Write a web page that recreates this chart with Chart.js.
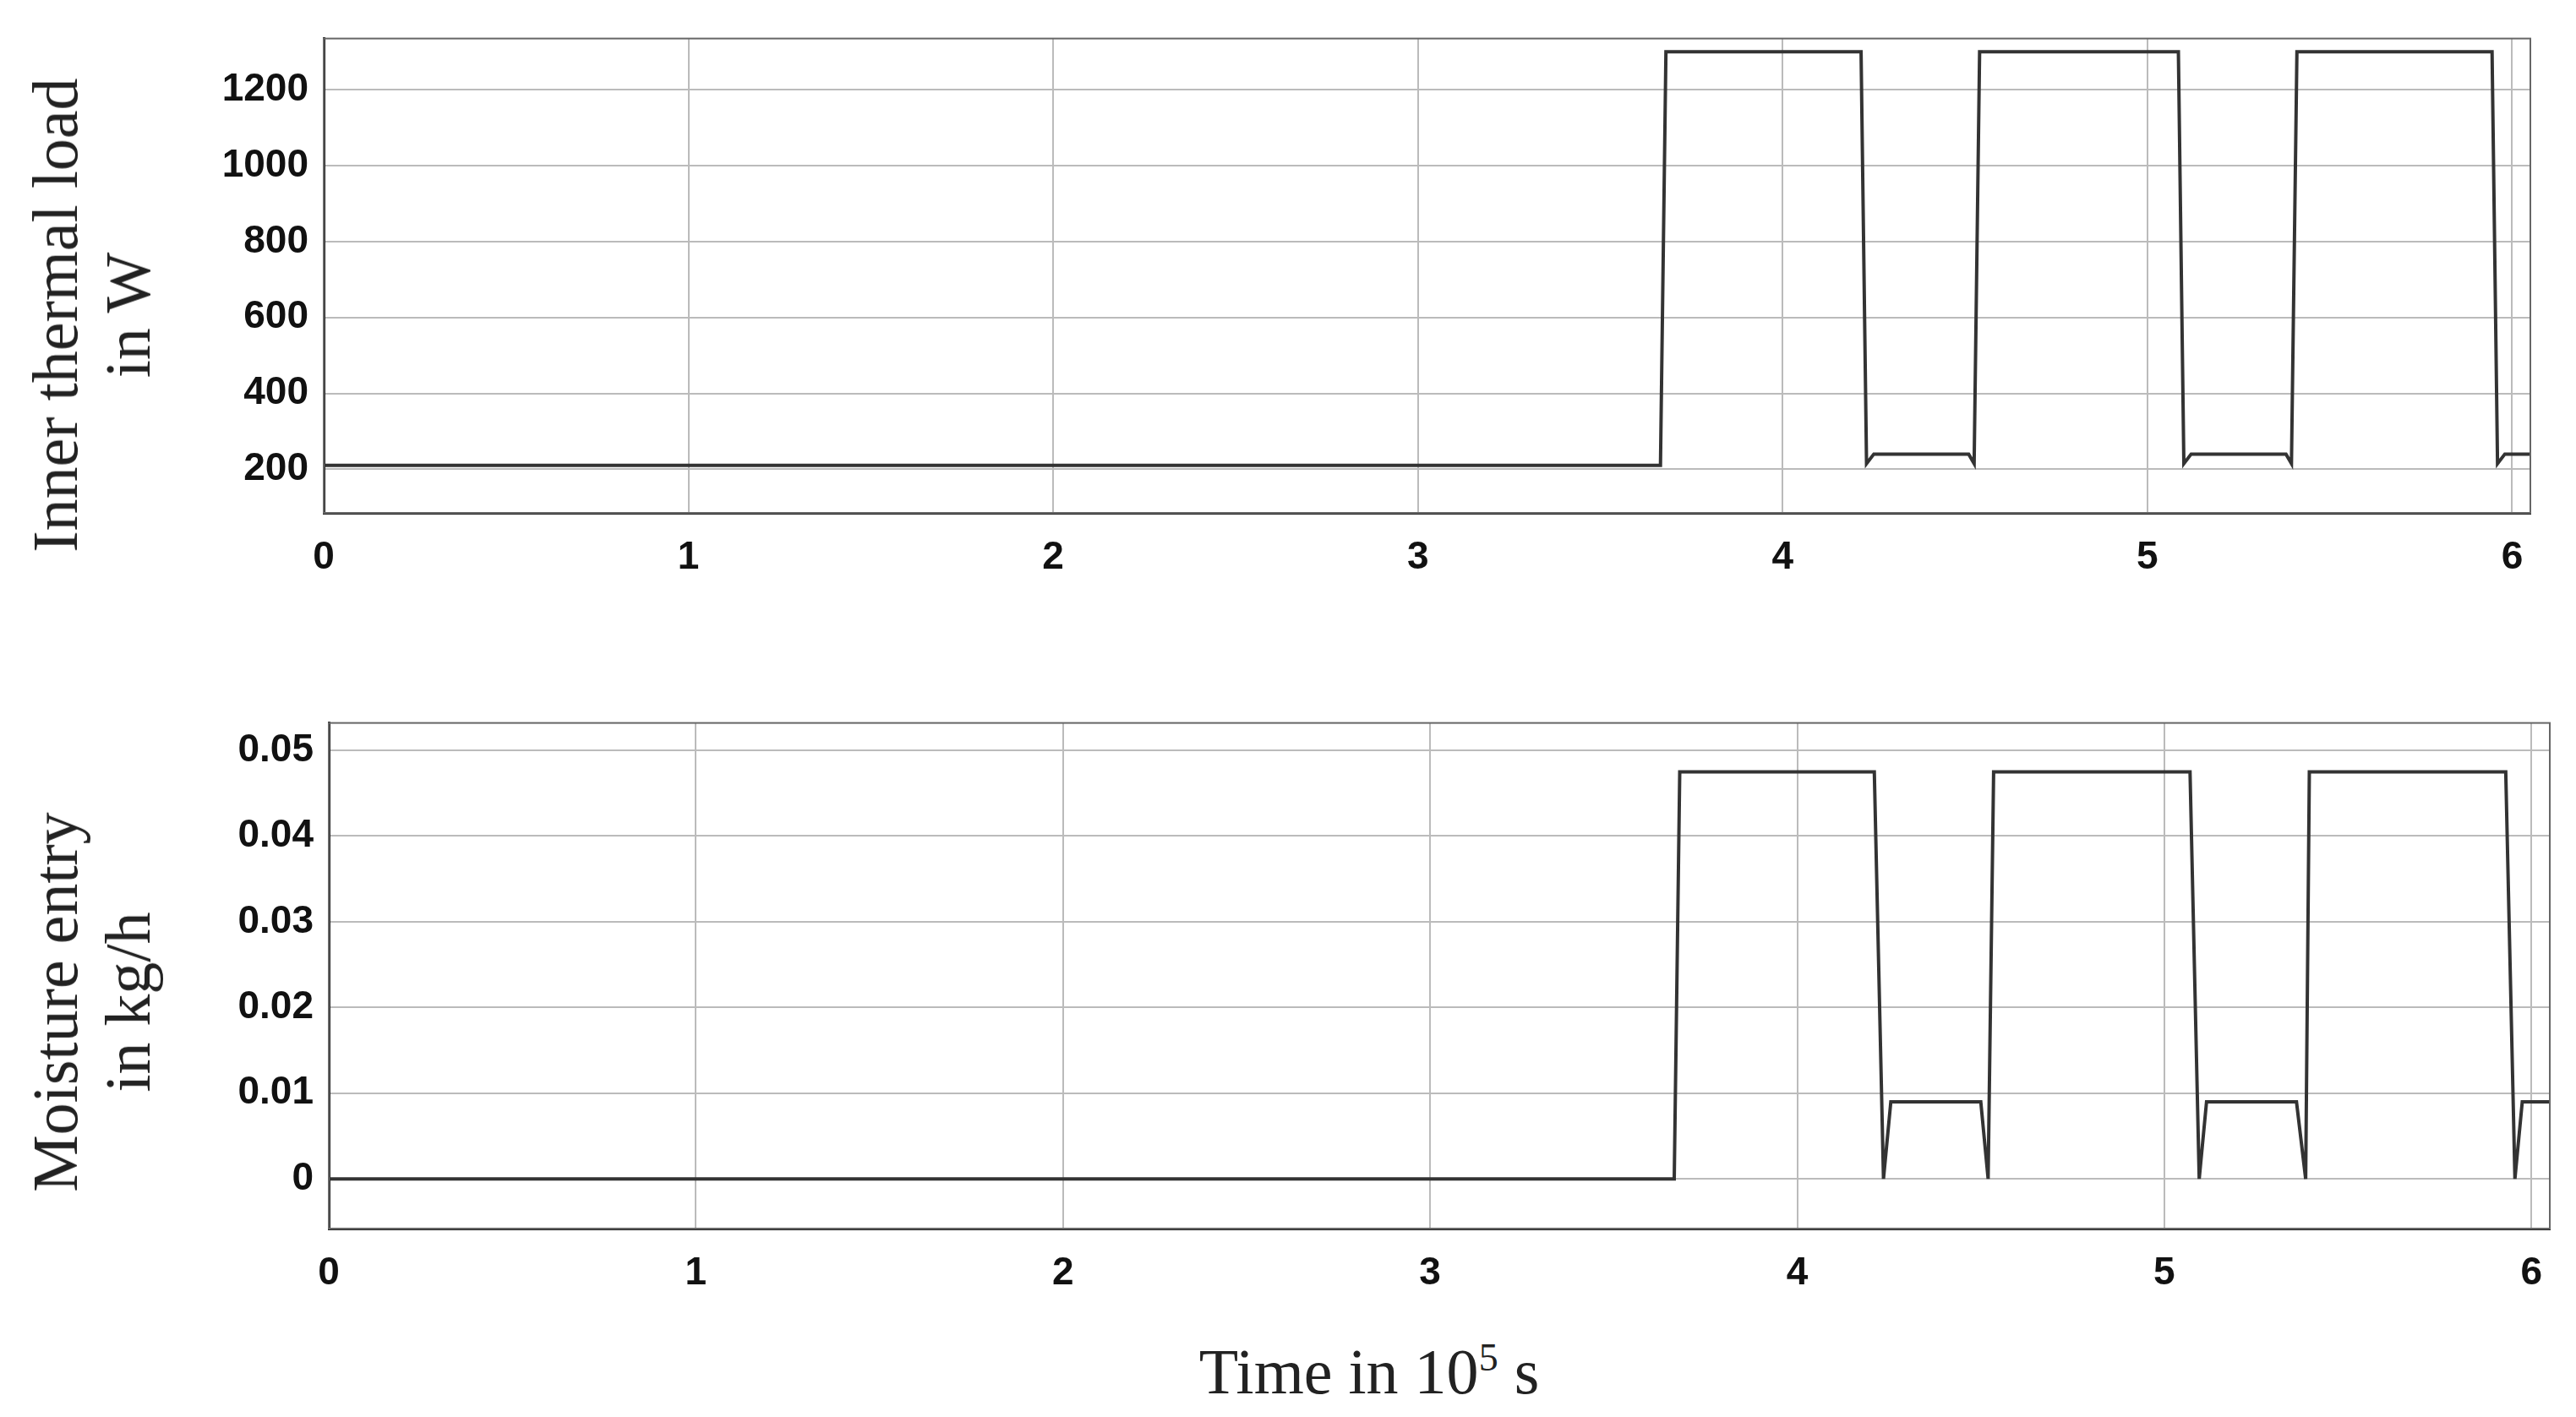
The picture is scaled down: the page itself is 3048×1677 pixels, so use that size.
<!DOCTYPE html>
<html>
<head>
<meta charset="utf-8">
<script src="https://cdn.jsdelivr.net/npm/chart.js@4"></script>
<style>
  body { margin: 0; background: #fff; }
  #wrap { position: relative; width: 3048px; height: 1677px; }
  canvas { position: absolute; left: 0; }
  .ytitle { position: absolute; font-family: "Liberation Serif", serif; font-size: 76px; color: #222;
            transform: translate(-50%, -50%) rotate(-90deg); white-space: nowrap; text-align: center; line-height: 86px; }
  .xtitle { position: absolute; font-family: "Liberation Serif", serif; font-size: 76px; color: #222;
            transform: translate(-50%, -50%); white-space: nowrap; }
</style>
</head>
<body>
<div id="wrap">
  <canvas id="loadChart" style="top:0"></canvas>
  <canvas id="moistChart" style="top:810px"></canvas>
  <div class="ytitle" style="left:108px; top:373px">Inner thermal load<br>in W</div>
  <div class="ytitle" style="left:108px; top:1186px">Moisture entry<br>in kg/h</div>
  <div class="xtitle" style="left:1620px; top:1623px">Time in 10<sup style="font-size:46px">5</sup> s</div>
</div>
<script>
// Time in 10^5 s
const loadTime = [0, 3.665, 3.68, 4.215, 4.23, 4.25, 4.51, 4.525, 4.54, 5.085, 5.1, 5.12, 5.38, 5.395, 5.41, 5.945, 5.96, 5.98, 6.05];
const loadValues = [210, 210, 1300, 1300, 215, 240, 240, 215, 1300, 1300, 215, 240, 240, 215, 1300, 1300, 215, 240, 240];

const moistTime = [0, 3.665, 3.68, 4.21, 4.235, 4.255, 4.5, 4.52, 4.535, 5.07, 5.095, 5.115, 5.36, 5.385, 5.395, 5.93, 5.955, 5.975, 6.05];
const moistValues = [0, 0, 0.0475, 0.0475, 0, 0.009, 0.009, 0, 0.0475, 0.0475, 0, 0.009, 0.009, 0, 0.0475, 0.0475, 0, 0.009, 0.009];

const xTicks = [0, 1, 2, 3, 4, 5, 6];
const loadTicks = [200, 400, 600, 800, 1000, 1200];
const moistTicks = [0, 0.01, 0.02, 0.03, 0.04, 0.05];

const tickFont = { family: '"Liberation Sans", Arial, sans-serif', size: 46, weight: 'bold' };

function makeChart(id, h, times, values, yMin, yMax, yTicks, yLabel, yWidth, padRight, padTop, xHeight) {
  const canvas = document.getElementById(id);
  canvas.width = 3048; canvas.height = h;
  canvas.style.width = '3048px'; canvas.style.height = h + 'px';
  return new Chart(canvas, {
    type: 'line',
    data: {
      datasets: [{
        data: times.map((t, i) => ({ x: t, y: values[i] })),
        borderColor: '#333',
        borderWidth: 4,
        pointRadius: 0,
        tension: 0
      }]
    },
    options: {
      responsive: false,
      animation: false,
      layout: { padding: { right: padRight, top: padTop } },
      plugins: { legend: { display: false }, tooltip: { enabled: false } },
      scales: {
        x: {
          type: 'linear', min: 0, max: 6.05,
          afterBuildTicks: s => { s.ticks = xTicks.map(v => ({ value: v })); },
          afterFit: s => { s.height = xHeight; },
          ticks: { font: tickFont, color: '#111', maxRotation: 0, padding: 26 },
          grid: { color: '#bbb', lineWidth: 2, tickLength: 0 },
          border: { color: '#222', width: 3 }
        },
        y: {
          min: yMin, max: yMax,
          afterBuildTicks: s => { s.ticks = yTicks.map(v => ({ value: v })); },
          afterFit: s => { s.width = yWidth; },
          ticks: { font: tickFont, color: '#111', padding: 18, callback: yLabel },
          grid: { color: '#bbb', lineWidth: 2, tickLength: 0 },
          border: { color: '#222', width: 3 }
        }
      }
    },
    plugins: [{
      id: 'frame',
      afterDraw(c) {
        const a = c.chartArea, g = c.ctx;
        g.save(); g.strokeStyle = '#666'; g.lineWidth = 2;
        g.strokeRect(a.left, a.top, a.right - a.left, a.bottom - a.top);
        g.restore();
      }
    }]
  });
}

makeChart('loadChart', 700, loadTime, loadValues, 85, 1335, loadTicks, v => String(v), 383, 54, 35, 93);
makeChart('moistChart', 740, moistTime, moistValues, -0.0058, 0.0532, moistTicks, v => v === 0 ? '0' : v.toFixed(2), 389, 31, 36, 96);
</script>
</body>
</html>
